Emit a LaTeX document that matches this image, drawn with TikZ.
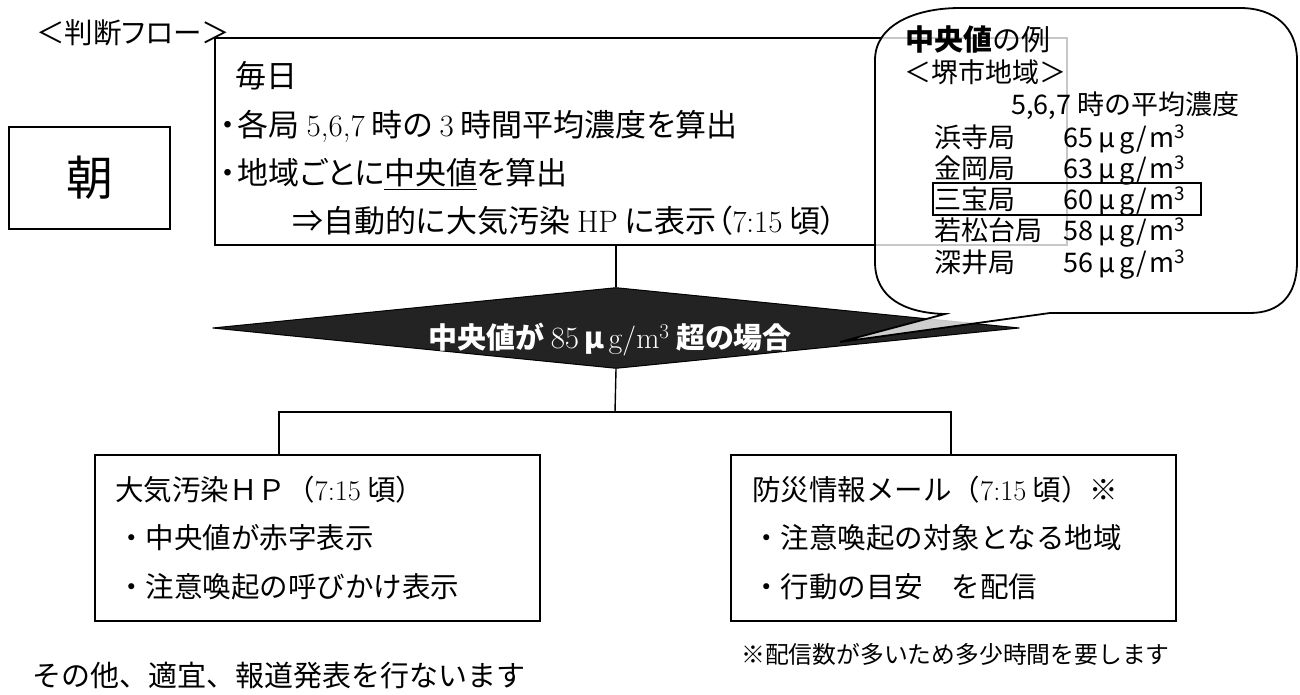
\documentclass[tikz,border=0pt]{standalone}
\usepackage{fontspec}
\newfontfamily\jp{Noto Sans CJK JP}
\newfontfamily\jpp[RawFeature=+palt]{Noto Sans CJK JP}
\newcommand\rmtxt[1]{{\rmfamily\mdseries #1}}
\newcommand\ugm{\kern5pt μ\kern4pt g\kern2.5pt/\kern2.5pt m\textsuperscript{3}}
\usetikzlibrary{shapes.geometric}
\definecolor{diafill}{HTML}{232323}
\begin{document}
\begin{tikzpicture}[x=1pt,y=-1pt,
  box/.style={draw=black,line width=1.6pt,fill=white,inner sep=0pt},
  conn/.style={draw=black,line width=1.4pt},
  txt/.style={anchor=base west,inner sep=0pt},
  fmain/.style={font=\jpp\fontsize{31}{36}\selectfont},
  flow/.style={font=\jp\fontsize{28.5}{34}\selectfont},
  fcall/.style={font=\jp\fontsize{27}{31}\selectfont},
]
\useasboundingbox (0,0) rectangle (1300,695);

% main box
\node[box,minimum width=852pt,minimum height=207pt] (main) at (641,141.5) {};
\node[txt,fmain] (m1) at (235,87.8) {毎日};
\node[txt,fmain] (m2) at (220,136.8) {・\kern2pt 各局 \rmtxt{5,6,7} 時の \rmtxt{3} 時間平均濃度を算出};
\node[txt,fmain] (m3) at (220,184.8) {・\kern2pt 地域ごとに\underline{中央値}を算出};
\node[txt,fmain] (m4) at (292,232.8) {⇒自動的に大気汚染 \rmtxt{HP} に表示（\rmtxt{7:15} 頃）};

% morning box
\node[box,minimum width=161pt,minimum height=102pt] (asa) at (89.5,178) {};
\node[anchor=base,inner sep=0pt,font=\jp\fontsize{47}{50}\selectfont] (asat) at (89.5,196) {朝};

% title
\node[txt,font=\jpp\fontsize{28.5}{34}\selectfont] (title) at (36,43.8) {＜判断フロー＞};

% diamond
\node[diamond,draw=black,line width=1pt,fill=diafill,minimum width=807pt,minimum height=81pt,inner sep=0pt] (dia) at (616,328) {};
\node[anchor=base,inner sep=0pt,text=white,font=\jpp\bfseries\fontsize{29}{33}\selectfont] (diat) at (610,348)
  {中央値が \rmtxt{\fontsize{31}{33}\selectfont 85}\,μ\,\rmtxt{\fontsize{30}{33}\selectfont g/m\textsuperscript{3}} 超の場合};

% lower boxes
\node[box,minimum width=445pt,minimum height=166pt] (hp) at (317.5,538) {};
\node[box,minimum width=445pt,minimum height=166pt] (mail) at (953.5,538) {};

\node[txt,flow] (h1) at (115,500.8) {大気汚染ＨＰ（\rmtxt{7:15} 頃）};
\node[txt,flow] (h2) at (117,548.8) {・中央値が赤字表示};
\node[txt,flow] (h3) at (117,597.8) {・注意喚起の呼びかけ表示};

\node[txt,flow] (k1) at (752,500.8) {防災情報メール（\rmtxt{7:15} 頃）※};
\node[txt,flow] (k2) at (752,548.8) {・注意喚起の対象となる地域};
\node[txt,flow] (k3) at (752,597.8) {・行動の目安　を配信};

% connectors
\coordinate (split) at (615,412);
\coordinate (hpin) at ([xshift=-38.5pt]hp.north);
\coordinate (mailin) at ([xshift=-2.5pt]mail.north);
\draw[conn] (dia.north) -- (dia.north |- main.south);
\draw[conn] (dia.south) -- (split);
\draw[conn] (hpin) |- (split) -| (mailin);

% notes
\node[txt,font=\jp\fontsize{23.8}{28}\selectfont] (note) at (741,663.9) {※配信数が多いため多少時間を要します};
\node[txt,font=\jp\fontsize{29}{34}\selectfont] (other) at (32,686) {その他、適宜、報道発表を行ないます};

% callout
\draw[line width=1.8pt,fill=white,fill opacity=0.78] (875,262)
  -- (875,60) .. controls (875,25) and (915,8) .. (960,8)
  -- (1240,8) .. controls (1275,8) and (1297,28) .. (1297,60)
  -- (1297,262) .. controls (1297,295) and (1280,313) .. (1250,313)
  -- (1050,313) -- (840,342) -- (945,314)
  .. controls (905,313) and (875,298) .. (875,262) -- cycle;

\node[txt,font=\jp\fontsize{29}{33}\selectfont] (ct) at (905,51) {\textbf{中央値}の例};
\node[txt,fcall] (cs) at (904,82.2) {＜堺市地域＞};
\node[txt,fcall] (ch) at (1011,114.2) {5,6,7 時の平均濃度};
\node[txt,fcall] (n1) at (934,147.2) {浜寺局};
\node[txt,fcall] (v1) at (1063,147.2) {65\ugm};
\node[txt,fcall] (n2) at (934,178.2) {金岡局};
\node[txt,fcall] (v2) at (1063,178.2) {63\ugm};
\node[txt,fcall] (n3) at (934,209.2) {三宝局};
\node[txt,fcall] (v3) at (1063,209.2) {60\ugm};
\node[txt,fcall] (n4) at (934,240.2) {若松台局};
\node[txt,fcall] (v4) at (1063,240.2) {58\ugm};
\node[txt,fcall] (n5) at (934,272.2) {深井局};
\node[txt,fcall] (v5) at (1063,272.2) {56\ugm};
\draw[line width=1.5pt] (933,183) rectangle (1201,215);
\end{tikzpicture}
\end{document}
